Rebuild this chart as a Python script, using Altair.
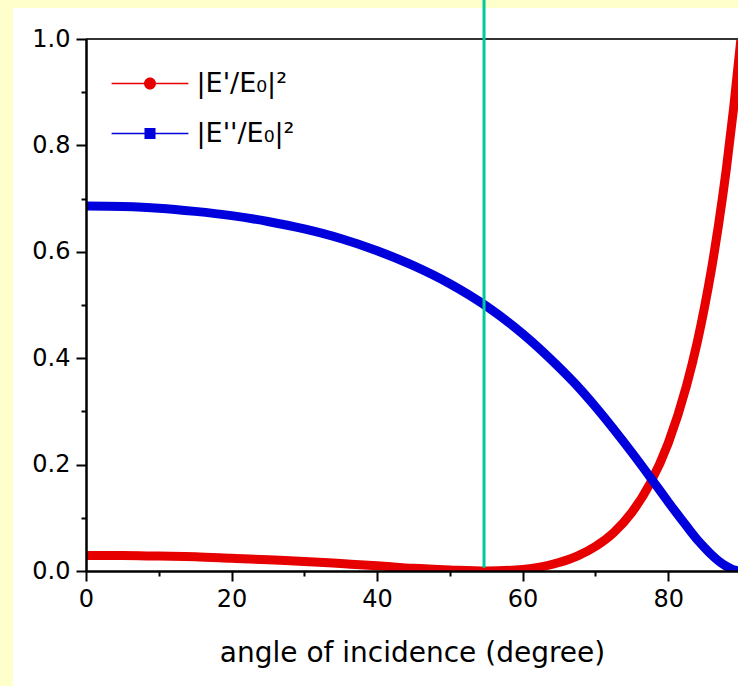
import altair as alt
import pandas as pd

# ---- data ----
angles = [0, 5, 10, 15, 20, 25, 30, 35, 40, 45, 50, 55, 60, 65, 67.5, 70,
          72.5, 75, 77.5, 80, 82.5, 84, 85, 86, 87.5, 88, 89, 90]
reflected = [0.029, 0.029, 0.028, 0.027, 0.024, 0.021, 0.018, 0.014, 0.010,
             0.005, 0.002, 0.000, 0.003, 0.016, 0.028, 0.046, 0.072, 0.110,
             0.164, 0.240, 0.347, 0.430, 0.496, 0.571, 0.705, 0.756, 0.870, 1.000]
transmitted = [0.686, 0.685, 0.682, 0.676, 0.668, 0.657, 0.643, 0.625, 0.602,
               0.574, 0.540, 0.498, 0.446, 0.383, 0.348, 0.309, 0.267, 0.223,
               0.177, 0.130, 0.085, 0.059, 0.044, 0.030, 0.013, 0.009, 0.002, 0.000]
series_names = ["|E'/E₀|²", "|E''/E₀|²"]
series_colors = ["#E60000", "#0000DC"]
brewster_angle = [54.7]
x_major = [0, 20, 40, 60, 80]
x_minor = [10, 30, 50, 70]
y_major = [0.0, 0.2, 0.4, 0.6, 0.8, 1.0]
y_minor = [0.1, 0.3, 0.5, 0.7, 0.9]

rows = []
for a, r, t in zip(angles, reflected, transmitted):
    rows.append({"angle": a, "value": r, "series": series_names[0]})
    rows.append({"angle": a, "value": t, "series": series_names[1]})
df = pd.DataFrame(rows)
df_brewster = pd.DataFrame({"angle": brewster_angle})
df_one = pd.DataFrame({"k": [0]})

W, H = 652, 532
FONT = "DejaVu Sans"

x_scale = alt.Scale(domain=[0, 89.6], nice=False, zero=False)
y_scale = alt.Scale(domain=[0, 1], nice=False)

circle_path = ("M-3.2,-0.065H-0.5V0.065H-3.2Z M0.5,-0.065H3.2V0.065H0.5Z "
               "M-0.5,0A0.5,0.5 0 1,1 0.5,0A0.5,0.5 0 1,1 -0.5,0Z")
square_path = ("M-3.2,-0.065H-0.46V0.065H-3.2Z M0.46,-0.065H3.2V0.065H0.46Z "
               "M-0.46,-0.46H0.46V0.46H-0.46Z")

legend = alt.Legend(
    title=None, orient="none", legendX=50.5, legendY=31,
    symbolSize=576, symbolStrokeWidth=0, symbolOpacity=1, labelOffset=33,
    labelFontSize=27, labelFont=FONT, labelColor="#000000",
    rowPadding=22, padding=0,
)

common = dict(grid=False, domainColor="#000000", domainWidth=2, tickColor="#000000",
              tickWidth=2, zindex=1)

x_axis = alt.Axis(
    values=x_major, title="angle of incidence (degree)", orient="bottom",
    tickSize=10, labelFontSize=24, labelFont=FONT, labelColor="#000000",
    labelPadding=6, titleFontSize=28, titleFont=FONT, titleFontWeight="normal",
    titleColor="#000000", titlePadding=28, labelFlush=False, **common,
)
y_axis = alt.Axis(
    values=y_major, title=None, orient="left", format=".1f",
    tickSize=10, labelFontSize=24, labelFont=FONT, labelColor="#000000",
    labelPadding=6, labelFlush=False, **common,
)
x_axis_minor = alt.Axis(values=x_minor, title=None, orient="bottom", labels=False,
                        tickSize=5, **common)
y_axis_minor = alt.Axis(values=y_minor, title=None, orient="left", labels=False,
                        tickSize=5, **common)

panel = alt.Chart(df_one).mark_rect(color="white", clip=False).encode(
    x=alt.value(-73), x2=alt.value(W + 20),
    y=alt.value(-31), y2=alt.value(H + 130),
)

color = alt.Color("series:N", scale=alt.Scale(domain=series_names, range=series_colors), legend=legend)

points = alt.Chart(df).mark_point(filled=True, size=2, opacity=1, clip=True).encode(
    x=alt.X("angle:Q", scale=x_scale, axis=x_axis_minor),
    y=alt.Y("value:Q", scale=y_scale, axis=y_axis_minor),
    color=color,
    shape=alt.Shape("series:N", scale=alt.Scale(domain=series_names, range=[circle_path, square_path]), legend=legend),
)

lines = alt.Chart(df).mark_line(strokeWidth=9, interpolate="monotone", clip=True).encode(
    x=alt.X("angle:Q", scale=x_scale, axis=x_axis),
    y=alt.Y("value:Q", scale=y_scale, axis=y_axis),
    color=color,
)

top_frame = alt.Chart(df_one).mark_rule(color="#333333", strokeWidth=2).encode(
    y=alt.datum(1.0, scale=y_scale, axis=None)
)

brewster = alt.Chart(df_brewster).mark_rule(color="#00C99A", strokeWidth=3, clip=False).encode(
    x=alt.X("angle:Q", scale=x_scale, axis=None),
    y=alt.datum(0.006, axis=None),
    y2=alt.datum(1.075),
)

chart = alt.layer(panel, points, lines, top_frame, brewster).resolve_axis(
    x="independent", y="independent"
).properties(
    width=W, height=H,
    autosize=alt.AutoSizeParams(type="none"),
    padding={"left": 86, "top": 39, "right": 0, "bottom": 115},
    background="#FFFFCC",
).configure_view(stroke=None)

chart.save("out.html", embed_options={"renderer": "svg", "actions": False})
